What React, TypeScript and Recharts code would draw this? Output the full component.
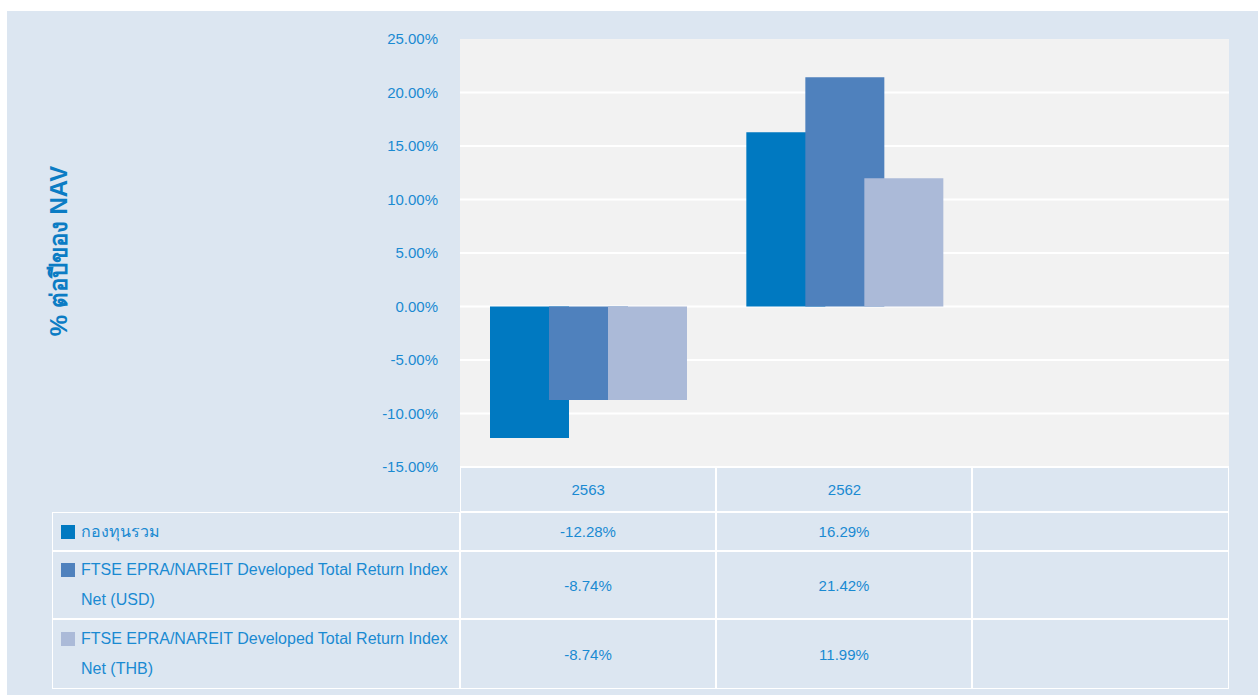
import { BarChart, Bar, XAxis, YAxis, CartesianGrid } from 'recharts';

// fiscal years (Thai calendar), third slot is empty in the source
const years = ['2563', '2562', ''];
const fundReturns = [-12.28, 16.29, null];
const usdIndexReturns = [-8.74, 21.42, null];
const thbIndexReturns = [-8.74, 11.99, null];
const yTicks = [-15, -10, -5, 0, 5, 10, 15, 20, 25];

const seriesNames = [
  'กองทุนรวม',
  'FTSE EPRA/NAREIT Developed Total Return Index Net (USD)',
  'FTSE EPRA/NAREIT Developed Total Return Index Net (THB)',
];
const seriesColors = ['#0079c1', '#4f81bd', '#abbad8'];
const seriesValues = [fundReturns, usdIndexReturns, thbIndexReturns];

const BG = '#dce6f1';
const TEXT = '#1a8ad2';
const FONT = "'Liberation Sans', Arial, sans-serif";

const data = years.map((year, i) => ({
  year,
  fund: fundReturns[i],
  usd: usdIndexReturns[i],
  thb: thbIndexReturns[i],
}));
const keys = ['fund', 'usd', 'thb'];

const fmt = (v: number | null) => (v === null ? '' : `${v.toFixed(2)}%`);

// table layout (px inside the panel)
const colEdges = [45, 453, 709, 965, 1222];
const headerTop = 456;
const headerH = 45;
const rowHeights = [39, 68, 70];

const cellBorder = '1px solid #ffffff';

export default function App() {
  let rowTop = headerTop + headerH;
  const rows = seriesNames.map((name, r) => {
    const top = rowTop;
    const h = rowHeights[r];
    rowTop += h;
    return (
      <div key={name}>
        <div
          style={{
            position: 'absolute',
            left: colEdges[0],
            top,
            width: colEdges[1] - colEdges[0],
            height: h,
            border: cellBorder,
            boxSizing: 'border-box',
            display: 'flex',
            alignItems: 'center',
          }}
        >
          <div style={{ display: 'flex', alignItems: 'flex-start', paddingLeft: 8 }}>
            <span
              style={{
                width: 14,
                height: 14,
                background: seriesColors[r],
                marginTop: 8,
                marginRight: 6,
                flex: 'none',
              }}
            />
            <span style={{ width: 372, lineHeight: '30px', fontSize: 16 }}>{name}</span>
          </div>
        </div>
        {years.map((y, c) => (
          <div
            key={c}
            style={{
              position: 'absolute',
              left: colEdges[c + 1],
              top,
              width: colEdges[c + 2] - colEdges[c + 1],
              height: h,
              border: cellBorder,
              boxSizing: 'border-box',
              display: 'flex',
              alignItems: 'center',
              justifyContent: 'center',
            }}
          >
            {fmt(seriesValues[r][c])}
          </div>
        ))}
      </div>
    );
  });

  return (
    <div
      style={{
        position: 'absolute',
        left: 7,
        top: 11,
        width: 1251,
        height: 684,
        background: BG,
        fontFamily: FONT,
        fontSize: 15,
        color: TEXT,
        overflow: 'hidden',
      }}
    >
      <div style={{ position: 'absolute', left: 0, top: 0 }}>
        <BarChart
          width={1251}
          height={684}
          data={data}
          margin={{ top: 28, right: 29, left: 0, bottom: 183 }}
          barSize={79}
          barGap={-20}
        >
          <CartesianGrid
            vertical={false}
            fill="#f2f2f2"
            stroke="#ffffff"
            strokeWidth={2}
            horizontalValues={yTicks.slice(0, -1)}
          />
          <XAxis
            dataKey="year"
            height={headerH}
            axisLine={false}
            tickLine={false}
            tickSize={0}
            tickMargin={17}
            interval={0}
            tick={{ fill: TEXT, fontSize: 15 }}
          />
          <YAxis
            width={453}
            domain={[-15, 25]}
            ticks={yTicks}
            axisLine={false}
            tickLine={false}
            tickSize={0}
            tickMargin={22}
            tickFormatter={(v: number) => `${v.toFixed(2)}%`}
            tick={{ fill: TEXT, fontSize: 15 }}
          />
          {keys.map((k, i) => (
            <Bar key={k} dataKey={k} fill={seriesColors[i]} isAnimationActive={false} />
          ))}
        </BarChart>
      </div>

      {/* header row borders (value columns only) */}
      {years.map((y, c) => (
        <div
          key={`h${c}`}
          style={{
            position: 'absolute',
            left: colEdges[c + 1],
            top: headerTop,
            width: colEdges[c + 2] - colEdges[c + 1],
            height: headerH,
            border: cellBorder,
            boxSizing: 'border-box',
            pointerEvents: 'none',
          }}
        />
      ))}
      {rows}

      <div
        style={{
          position: 'absolute',
          left: 51,
          top: 240,
          transform: 'translate(-50%, -50%) rotate(-90deg)',
          whiteSpace: 'nowrap',
          fontWeight: 'bold',
          fontSize: 24,
          color: '#0b7cc4',
        }}
      >
        % ต่อปีของ NAV
      </div>
    </div>
  );
}
